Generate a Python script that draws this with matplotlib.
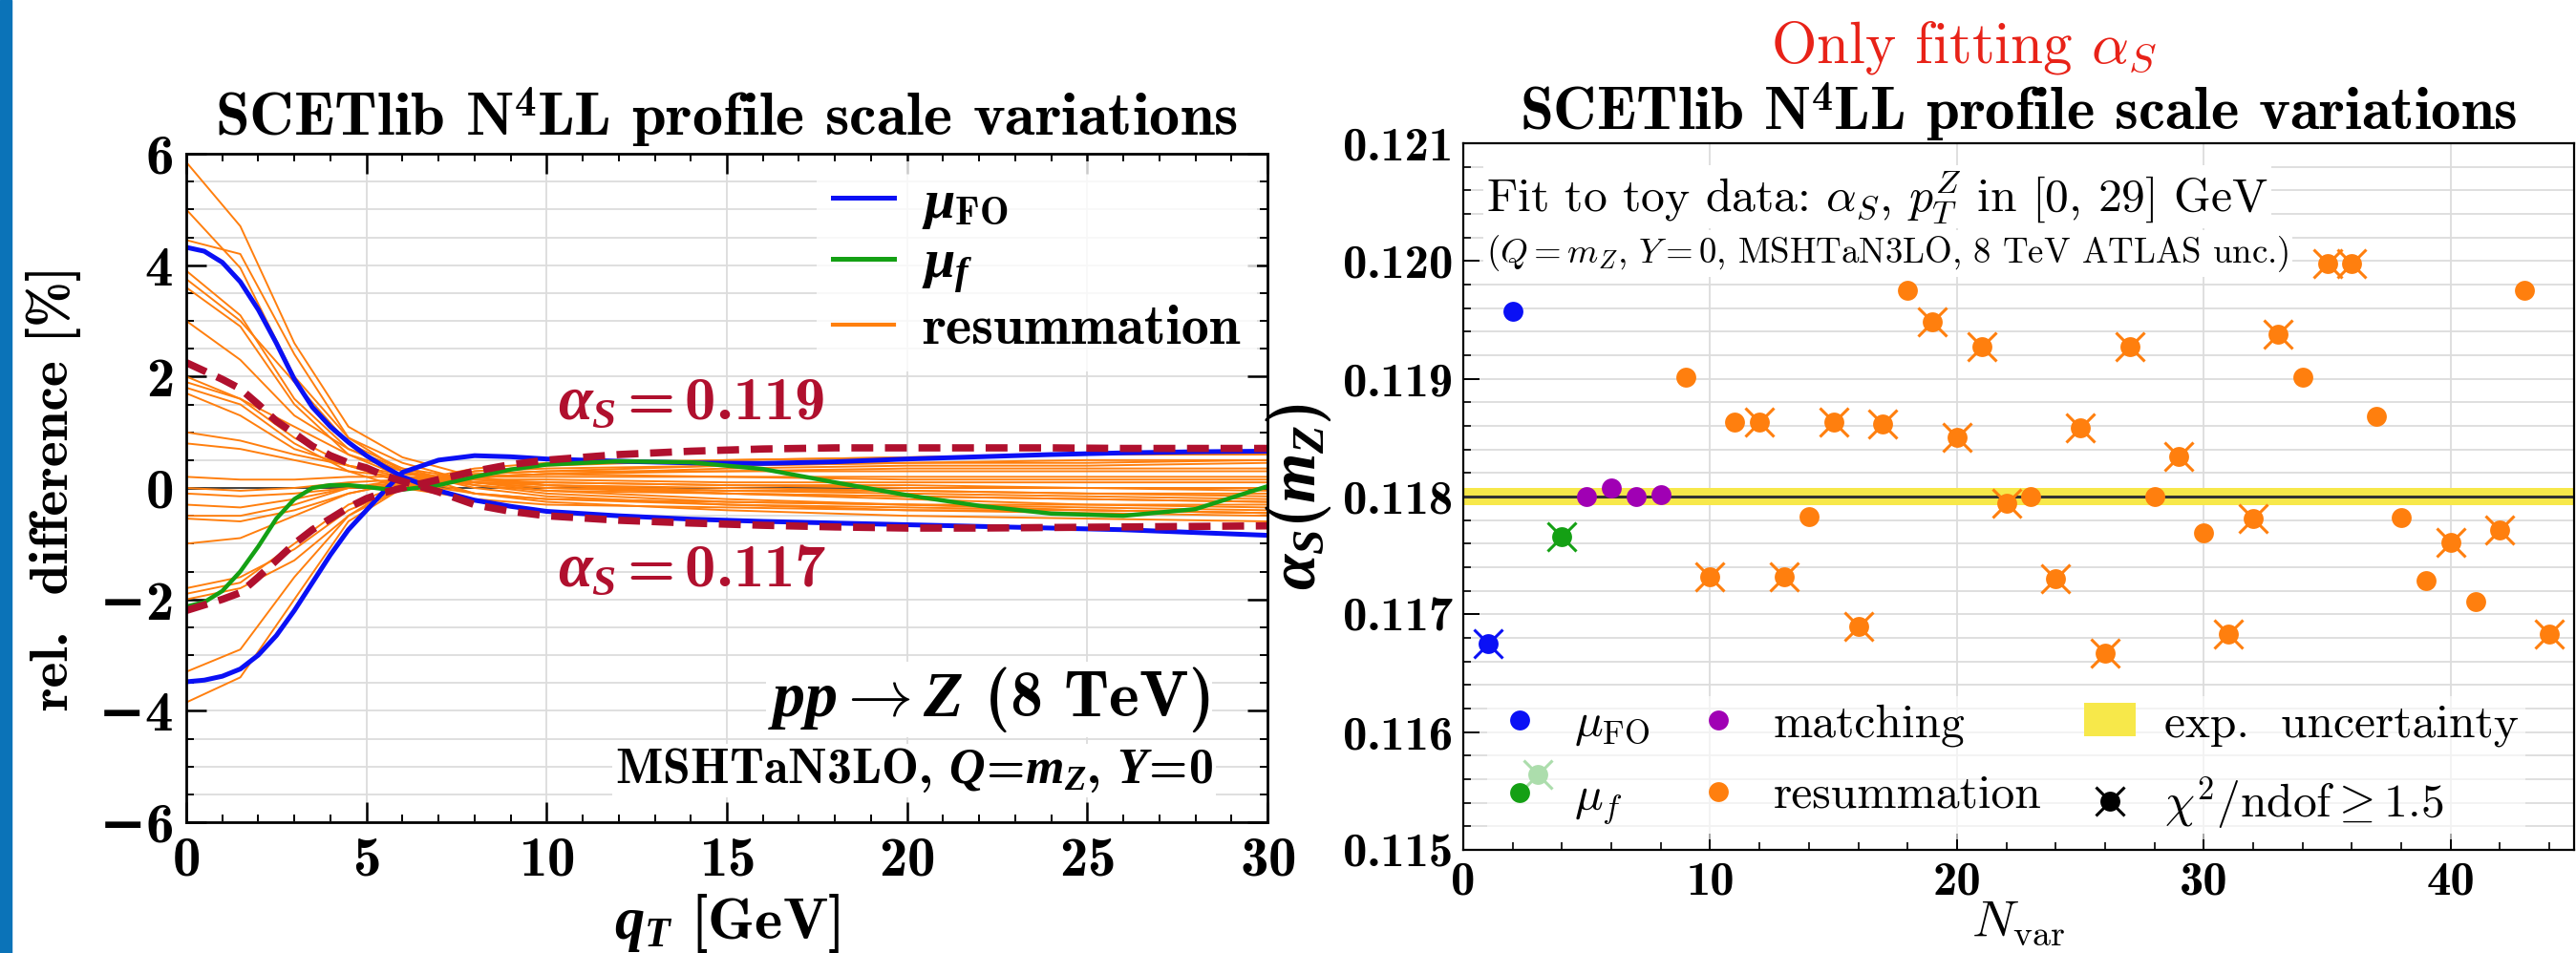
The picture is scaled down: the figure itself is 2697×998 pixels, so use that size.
import numpy as np
import matplotlib
matplotlib.use("Agg")
import matplotlib.pyplot as plt
from matplotlib.lines import Line2D
from matplotlib.patches import Patch, Rectangle
from matplotlib.legend_handler import HandlerTuple
from matplotlib.ticker import MultipleLocator, FormatStrFormatter, FuncFormatter

plt.rcParams["font.family"] = "cmr10"
# bold-looking maths by default; the right panel texts switch back to "cm"
plt.rcParams["mathtext.fontset"] = "custom"
plt.rcParams["mathtext.rm"] = "cmb10"
plt.rcParams["mathtext.bf"] = "cmb10"
plt.rcParams["mathtext.it"] = "Liberation Serif:italic:bold"
plt.rcParams["mathtext.sf"] = "DejaVu Serif:bold"
plt.rcParams["mathtext.fallback"] = "cm"

# ── left panel data: relative difference [%] vs q_T ─────────────────────────
q_smooth = [0, 0.5, 1, 1.5, 2, 2.5, 3, 3.5, 4, 4.5, 5, 5.5, 6, 7, 8, 9, 10,
            12, 14, 16, 18, 20, 22, 24, 26, 28, 30]
mu_fo_up = [4.32, 4.25, 4.05, 3.7, 3.2, 2.6, 1.95, 1.45, 1.1, 0.82, 0.58, 0.38, 0.2,
            -0.05, -0.22, -0.33, -0.42, -0.5, -0.56, -0.6, -0.63, -0.66, -0.69,
            -0.72, -0.75, -0.8, -0.85]
mu_fo_dn = [-3.48, -3.45, -3.38, -3.25, -3.0, -2.65, -2.2, -1.7, -1.2, -0.75, -0.4,
            -0.05, 0.28, 0.5, 0.58, 0.56, 0.52, 0.48, 0.45, 0.44, 0.47, 0.52, 0.56,
            0.6, 0.63, 0.65, 0.66]
mu_f = [-2.13, -2.05, -1.85, -1.5, -1.05, -0.55, -0.2, 0.0, 0.05, 0.05, 0.02, -0.02,
        -0.03, 0.05, 0.2, 0.33, 0.42, 0.48, 0.46, 0.34, 0.1, -0.13, -0.32, -0.46,
        -0.5, -0.38, 0.03]
as_119 = [-2.2, -2.1, -2.0, -1.88, -1.6, -1.3, -1.0, -0.75, -0.55, -0.35, -0.19,
          -0.08, 0.0, 0.15, 0.3, 0.42, 0.5, 0.6, 0.66, 0.7, 0.72, 0.72, 0.72, 0.72,
          0.71, 0.71, 0.71]
as_117 = [2.25, 2.1, 1.95, 1.78, 1.5, 1.2, 0.98, 0.75, 0.58, 0.45, 0.36, 0.22, 0.12,
          -0.07, -0.3, -0.42, -0.5, -0.58, -0.63, -0.67, -0.7, -0.72, -0.72, -0.71,
          -0.7, -0.69, -0.68]

q_res = [0, 1.5, 3, 4.5, 6, 8, 10, 15, 20, 25, 30]
resum = [
    [5.85, 4.7, 2.6, 1.1, 0.55, 0.2, 0.05, -0.1, -0.2, -0.3, -0.35],
    [5.0, 3.95, 2.0, 0.9, 0.45, 0.1, -0.05, -0.2, -0.3, -0.4, -0.45],
    [4.45, 4.2, 2.4, 0.9, 0.3, -0.1, -0.25, -0.4, -0.5, -0.55, -0.6],
    [3.9, 3.1, 1.6, 0.7, 0.3, 0.0, -0.15, -0.3, -0.4, -0.45, -0.5],
    [3.75, 3.0, 1.9, 0.8, 0.35, 0.05, -0.1, -0.25, -0.3, -0.35, -0.4],
    [3.6, 2.9, 1.5, 0.6, 0.2, -0.1, -0.2, -0.3, -0.35, -0.4, -0.45],
    [3.0, 2.3, 1.3, 0.7, 0.35, 0.15, 0.05, -0.05, -0.1, -0.15, -0.2],
    [2.0, 1.6, 1.1, 0.6, 0.3, 0.1, 0.0, -0.05, -0.05, -0.1, -0.1],
    [1.9, 1.6, 0.9, 0.4, 0.1, -0.1, -0.2, -0.25, -0.3, -0.3, -0.3],
    [1.8, 1.5, 0.8, 0.3, 0.0, -0.2, -0.3, -0.35, -0.4, -0.4, -0.45],
    [1.7, 1.3, 0.7, 0.4, 0.2, 0.05, -0.05, -0.1, -0.15, -0.2, -0.25],
    [1.0, 0.85, 0.6, 0.4, 0.25, 0.15, 0.1, 0.05, 0.0, 0.0, 0.0],
    [0.8, 0.7, 0.5, 0.3, 0.2, 0.1, 0.0, -0.1, -0.15, -0.2, -0.25],
    [0.2, 0.15, 0.15, 0.2, 0.2, 0.15, 0.15, 0.1, 0.1, 0.1, 0.1],
    [0.0, -0.05, 0.0, 0.1, 0.15, 0.2, 0.2, 0.2, 0.2, 0.2, 0.2],
    [-0.1, -0.15, -0.1, 0.0, 0.05, 0.1, 0.1, 0.05, 0.05, 0.0, -0.05],
    [-0.3, -0.35, -0.2, 0.0, 0.1, 0.1, 0.05, 0.0, -0.05, -0.1, -0.15],
    [-0.5, -0.5, -0.3, 0.0, 0.15, 0.25, 0.3, 0.3, 0.3, 0.3, 0.3],
    [-0.55, -0.6, -0.4, -0.1, 0.1, 0.2, 0.25, 0.35, 0.4, 0.4, 0.45],
    [-1.0, -0.9, -0.5, -0.1, 0.1, 0.25, 0.3, 0.4, 0.45, 0.5, 0.5],
    [-1.8, -1.6, -1.1, -0.4, 0.0, 0.2, 0.25, 0.2, 0.15, 0.15, 0.15],
    [-1.9, -1.7, -1.0, -0.3, 0.05, 0.2, 0.25, 0.3, 0.35, 0.35, 0.35],
    [-2.0, -1.8, -1.3, -0.5, 0.0, 0.3, 0.4, 0.5, 0.55, 0.6, 0.6],
    [-3.3, -2.9, -1.6, -0.5, 0.1, 0.35, 0.45, 0.5, 0.55, 0.6, 0.6],
    [-3.85, -3.4, -2.0, -0.6, 0.0, 0.3, 0.35, 0.4, 0.45, 0.45, 0.5],
]

# ── right panel data: fitted alpha_s per variation ──────────────────────────
n_var = list(range(1, 45))
alpha_fit = [0.11675, 0.11957, 0.11564, 0.11766, 0.11800, 0.11807, 0.11800, 0.11802,
             0.11901, 0.11732, 0.11863, 0.11863, 0.11732, 0.11783, 0.11863, 0.11690,
             0.11862, 0.11975, 0.11948, 0.11850, 0.11927, 0.11794, 0.11800, 0.11730,
             0.11858, 0.11667, 0.11927, 0.11800, 0.11834, 0.11769, 0.11683, 0.11781,
             0.11938, 0.11901, 0.11998, 0.11998, 0.11868, 0.11782, 0.11729, 0.11761,
             0.11711, 0.11772, 0.11975, 0.11683]
var_group = ["FO"] * 2 + ["f"] * 2 + ["match"] * 4 + ["resum"] * 36
bad_chi2 = [1, 0, 1, 1, 0, 0, 0, 0, 0, 1, 0, 1, 1, 0, 1, 1, 1, 0, 1, 1, 1, 1, 0, 1,
            1, 1, 1, 0, 1, 0, 1, 1, 1, 0, 1, 1, 0, 0, 0, 1, 0, 1, 0, 1]
alpha_ref = 0.118
alpha_unc = 0.00007

c_blue = "#0a10f5"
c_green = "#14a014"
c_orange = "#ff7f0e"
c_purple = "#a000b4"
c_red = "#b0102e"
group_colors = {"FO": c_blue, "f": c_green, "match": c_purple, "resum": c_orange}

fig = plt.figure(figsize=(26.97, 9.98), dpi=100)
fig.patches.append(Rectangle((0, 0), 12 / 2697, 1, transform=fig.transFigure,
                             color="#0b73b8", zorder=0))
renderer = fig.canvas.get_renderer()


def fit_size(s, target_px, **kw):
    # font size that gives the text string the wanted width in pixels
    t = fig.text(0, 0, s, fontsize=10, **kw)
    w = t.get_window_extent(renderer).width
    t.remove()
    return 10 * target_px / w


def bold_int(v, pos):
    v = int(round(v))
    if v < 0:
        return r"$\mathsf{-}\mathbf{%d}$" % -v
    return r"$\mathbf{%d}$" % v


# ── left panel ──────────────────────────────────────────────────────────────
ax1 = fig.add_axes([195 / 2697, 137 / 998, 1132 / 2697, 700 / 998])
ax1.axhline(0, color="#444444", lw=1.4, zorder=1)
for vals in resum:
    ax1.plot(q_res, vals, color=c_orange, lw=1.4, zorder=2)
ax1.plot(q_smooth, mu_fo_up, color=c_blue, lw=3.6, zorder=4)
ax1.plot(q_smooth, mu_fo_dn, color=c_blue, lw=3.6, zorder=4)
ax1.plot(q_smooth, mu_f, color=c_green, lw=3.2, zorder=4)
ax1.plot(q_smooth, as_119, color=c_red, lw=5.5, ls=(0, (3, 1.6)), zorder=5)
ax1.plot(q_smooth, as_117, color=c_red, lw=5.5, ls=(0, (3, 1.6)), zorder=5)

ax1.set_xlim(0, 30)
ax1.set_ylim(-6, 6)
ax1.xaxis.set_major_locator(MultipleLocator(5))
ax1.xaxis.set_minor_locator(MultipleLocator(1))
ax1.yaxis.set_major_locator(MultipleLocator(2))
ax1.yaxis.set_minor_locator(MultipleLocator(0.5))
ax1.xaxis.set_major_formatter(FuncFormatter(bold_int))
ax1.yaxis.set_major_formatter(FuncFormatter(bold_int))
ax1.grid(True, which="major", axis="x", color="#dcdcdc", lw=1.3)
ax1.grid(True, which="both", axis="y", color="#dcdcdc", lw=1.3)
ax1.set_axisbelow(True)
ax1.tick_params(which="both", direction="in", top=True, right=True,
                labelsize=fit_size(r"$\mathbf{30}$", 65), pad=10)
ax1.tick_params(which="major", length=15, width=1.8)
ax1.tick_params(which="minor", length=6, width=1.4)
for s in ax1.spines.values():
    s.set_linewidth(2.0)
    s.set_zorder(7)

title_txt = "SCETlib N$^4$LL profile scale variations"
ax1.set_title(title_txt, family="cmb10", pad=14,
              fontsize=fit_size(title_txt, 1079, family="cmb10"))
xl = r"$q_T$ [GeV]"
ax1.set_xlabel(xl, family="cmb10", fontsize=fit_size(xl, 243, family="cmb10"))
ax1.xaxis.set_label_coords(0.5, -0.105)
yl = "rel.  difference [%]"
ax1.set_ylabel(yl, family="cmb10", fontsize=fit_size(yl, 465, family="cmb10"))
ax1.yaxis.set_label_coords(-0.097, 0.5)

leg1 = ax1.legend([Line2D([], [], color=c_blue, lw=3.6),
                   Line2D([], [], color=c_green, lw=3.6),
                   Line2D([], [], color=c_orange, lw=3.0)],
                  [r"$\mu_{\mathrm{FO}}$", r"$\mu_f$", "resummation"],
                  loc="upper left", bbox_to_anchor=(0.557, 1.03),
                  prop={"family": "cmb10",
                        "size": fit_size("resummation", 333, family="cmb10")},
                  frameon=True, framealpha=0.8, edgecolor="none", fancybox=False,
                  handlelength=1.1, handletextpad=0.5, labelspacing=0.15,
                  borderpad=0.3)
leg1.set_zorder(6)

lab = r"$\alpha_S = 0.119$"
s_lab = fit_size(lab, 287)
ax1.text(10.3, 1.5, lab, color=c_red, fontsize=s_lab, va="center")
ax1.text(10.3, -1.5, r"$\alpha_S = 0.117$", color=c_red, fontsize=s_lab, va="center")
proc = r"$pp \rightarrow Z$ (8 TeV)"
ax1.text(28.4, -3.8, proc, family="cmb10",
         fontsize=fit_size(proc, 470, family="cmb10"),
         ha="right", va="center", zorder=6,
         bbox=dict(facecolor="white", edgecolor="none", pad=2))
pdf = r"MSHTaN3LO, $Q\!=\!m_Z$, $Y\!=\!0$"
ax1.text(28.5, -5.07, pdf, family="cmb10",
         fontsize=fit_size(pdf, 632, family="cmb10"),
         ha="right", va="center", zorder=6,
         bbox=dict(facecolor="white", edgecolor="none", pad=2))

# ── right panel ─────────────────────────────────────────────────────────────
ax2 = fig.add_axes([1532 / 2697, 108 / 998, 1163 / 2697, 740 / 998])
ax2.axhspan(alpha_ref - alpha_unc, alpha_ref + alpha_unc, color="#f7e84a", lw=0, zorder=1)
ax2.axhline(alpha_ref, color="#333333", lw=2.2, zorder=2)
for n, a, g, b in zip(n_var, alpha_fit, var_group, bad_chi2):
    col = group_colors[g]
    ax2.plot(n, a, "o", color=col, ms=15, mec="none", zorder=3)
    if b:
        ax2.plot(n, a, "x", color=col, ms=22, mew=2.2, zorder=3)

ax2.set_xlim(0, 45)
ax2.set_ylim(0.115, 0.121)
ax2.xaxis.set_major_locator(MultipleLocator(10))
ax2.xaxis.set_minor_locator(MultipleLocator(2))
ax2.yaxis.set_major_locator(MultipleLocator(0.001))
ax2.yaxis.set_minor_locator(MultipleLocator(0.0002))
ax2.yaxis.set_major_formatter(FormatStrFormatter("%.3f"))
ax2.grid(True, which="major", axis="x", color="#dcdcdc", lw=1.3)
ax2.grid(True, which="both", axis="y", color="#dcdcdc", lw=1.3)
ax2.set_axisbelow(True)
ax2.tick_params(which="both", direction="in", labelfontfamily="cmb10", pad=8,
                labelsize=fit_size("0.121", 115, family="cmb10"))
ax2.tick_params(which="major", length=12, width=1.4)
ax2.tick_params(which="minor", length=6, width=1.2)
for s in ax2.spines.values():
    s.set_linewidth(1.6)
    s.set_zorder(7)

ax2.set_title(title_txt, family="cmb10", pad=10,
              fontsize=fit_size(title_txt, 1052, family="cmb10"))
red = r"Only fitting $\alpha_S$"
fig.text(2056 / 2697, 1 - 66 / 998, red, color="#e82218", family="cmr10",
         math_fontfamily="cm",
         fontsize=fit_size(red, 411, family="cmr10", math_fontfamily="cm"),
         ha="center", va="baseline")
nl = r"$N_{\mathrm{var}}$"
ax2.set_xlabel(nl, math_fontfamily="cm", fontsize=fit_size(nl, 104, math_fontfamily="cm"))
ax2.xaxis.set_label_coords(0.5, -0.07)
al = r"$\alpha_S(m_Z)$"
ax2.set_ylabel(al, fontsize=fit_size(al, 204))
ax2.yaxis.set_label_coords(-0.117, 0.5)

fit_txt = r"Fit to toy data: $\alpha_S$, $p_T^Z$ in [0, 29] GeV"
ax2.text(0.021, 0.904, fit_txt, transform=ax2.transAxes, va="baseline",
         math_fontfamily="cm", fontsize=fit_size(fit_txt, 824, math_fontfamily="cm"),
         zorder=6, bbox=dict(facecolor="white", edgecolor="none", pad=2))
unc_txt = r"($Q = m_Z$, $Y = 0$, MSHTaN3LO, 8 TeV ATLAS unc.)"
ax2.text(0.021, 0.831, unc_txt, transform=ax2.transAxes, va="baseline",
         math_fontfamily="cm", fontsize=fit_size(unc_txt, 844, math_fontfamily="cm"),
         zorder=6, bbox=dict(facecolor="white", edgecolor="none", pad=2))

leg_handles = [
    Line2D([], [], ls="none", marker="o", ms=15, color=c_blue, mec="none"),
    Line2D([], [], ls="none", marker="o", ms=15, color=c_green, mec="none"),
    Line2D([], [], ls="none", marker="o", ms=15, color=c_purple, mec="none"),
    Line2D([], [], ls="none", marker="o", ms=15, color=c_orange, mec="none"),
    Patch(facecolor="#f7e84a", edgecolor="none"),
    (Line2D([], [], ls="none", marker="o", ms=15, color="black", mec="none"),
     Line2D([], [], ls="none", marker="x", ms=22, mew=2.2, color="black")),
]
leg_labels = [r"$\mu_{\mathrm{FO}}$", r"$\mu_f$", "matching", "resummation",
              "exp.  uncertainty", r"$\chi^2/\mathrm{ndof} \geq 1.5$"]
leg2 = ax2.legend(leg_handles, leg_labels, ncol=3, loc="lower left",
                  bbox_to_anchor=(0.0, -0.018),
                  prop={"family": "cmr10", "size": fit_size("resummation", 281)},
                  handler_map={tuple: HandlerTuple(ndivide=1, pad=0)},
                  frameon=True, framealpha=0.65, edgecolor="none", fancybox=False,
                  handlelength=1.1, handletextpad=0.6, columnspacing=0.9,
                  labelspacing=0.6, borderpad=0.15)
for t in leg2.get_texts():
    t.set_math_fontfamily("cm")
leg2.set_zorder(6)

fig.savefig("out.png", dpi=100)
